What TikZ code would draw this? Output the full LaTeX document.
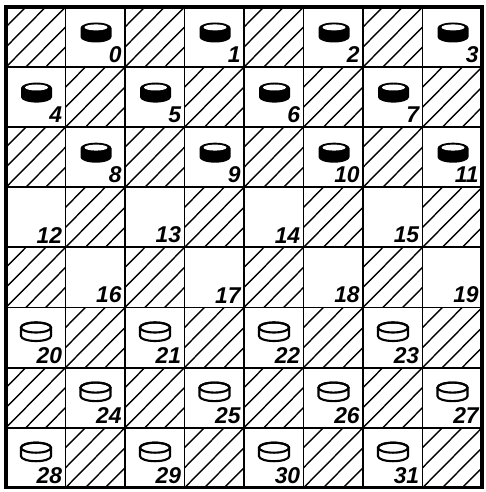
\documentclass[tikz,border=0pt]{standalone}
\usepackage{fontspec}
\newfontfamily\numfont{Liberation Sans}
\usetikzlibrary{calc}
\tikzset{
  gridline/.style={line width=1.1pt},
  frame/.style={line width=1.8pt},
  hatch/.style={line width=0.8pt},
  num/.style={anchor=south east, inner sep=0pt,
              font=\numfont\bfseries\itshape\fontsize{13}{13}\selectfont},
  blackman/.pic={
    \fill (-15.5,0) -- (-15.5,9) arc[start angle=180, end angle=0, x radius=15.5, y radius=5.5]
          -- (15.5,0) arc[start angle=0, end angle=-180, x radius=15.5, y radius=5.5] -- cycle;
    \fill[white] (0,-0.6) ellipse[x radius=11.5, y radius=3];
  },
  whiteman/.pic={
    \draw[line width=1.2pt, fill=white] (-15,0) -- (-15,8.5)
          arc[start angle=180, end angle=0, x radius=15, y radius=5] -- (15,0)
          arc[start angle=0, end angle=-180, x radius=15, y radius=5] -- cycle;
    \draw[line width=1.2pt] (0,0) ellipse[x radius=15, y radius=5];
  }
}

\begin{document}
\begin{tikzpicture}[x=0.02cm, y=-0.02cm]
\useasboundingbox (0,0) rectangle (485,492);
% board origin and cell size
\def\bx{6} \def\by{7} \def\cw{59.5} \def\ch{60.1}
% dark squares: hatching
\foreach \r in {0,...,7}
  \foreach \c in {0,...,7} {
    \pgfmathtruncatemacro{\odd}{mod(\r+\c,2)}
    \ifnum\odd=0
      \begin{scope}
        \clip (\bx+\c*\cw,\by+\r*\ch) rectangle ++(\cw,\ch);
        \foreach \k in {-3,...,3}
          \draw[hatch] (\bx+\c*\cw+\k*\cw/3,\by+\r*\ch+\ch) -- ++(\cw,-\ch);
      \end{scope}
    \fi
  }
% light squares: numbers and men
\foreach \r in {0,...,7}
  \foreach \c in {0,...,7} {
    \pgfmathtruncatemacro{\odd}{mod(\r+\c,2)}
    \pgfmathtruncatemacro{\n}{4*\r+floor(\c/2)}
    \ifnum\odd=1
      \node[num] (n\n) at (\bx+\c*\cw+\cw-3,\by+\r*\ch+\ch-4) {\n};
      \ifnum\r<3
        \pic at (\bx+\c*\cw+30.5,\by+\r*\ch+21) {blackman};
      \fi
      \ifnum\r>4
        \pic at (\bx+\c*\cw+30,\by+\r*\ch+20) {whiteman};
      \fi
    \fi
  }
% grid and frame
\foreach \i in {1,...,7} {
  \draw[gridline] (\bx+\i*\cw,\by) -- ++(0,8*\ch);
  \draw[gridline] (\bx,\by+\i*\ch) -- ++(8*\cw,0);
}
\draw[frame] (\bx,\by) rectangle ++(8*\cw,8*\ch);
\end{tikzpicture}
\end{document}
